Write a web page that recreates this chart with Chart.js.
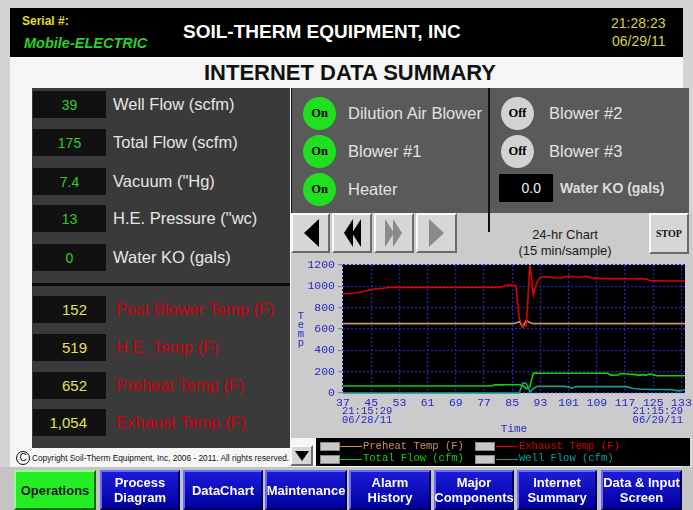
<!DOCTYPE html>
<html>
<head>
<meta charset="utf-8">
<script src="https://cdn.jsdelivr.net/npm/chart.js@4"></script>
<style>
body{margin:0;width:693px;height:510px;background:#d4d4d4;position:relative;overflow:hidden;font-family:"Liberation Sans",Arial,sans-serif}
.a{position:absolute;white-space:nowrap}
.vc{display:flex;align-items:center}
.box{background:#111;height:27px;width:73px;left:33px}
.up{color:#2fcc2f;font-size:14px;justify-content:center}
.lo{color:#e4e35a;font-size:15px;justify-content:flex-end;padding-right:19px;box-sizing:border-box}
.lbl{color:#e6e6e6;font-size:16.5px;left:113px;height:27px}
.red{color:#d0000f;font-size:16.5px;left:116px;height:27px}
.dot{width:33px;height:33px;border-radius:50%;font:bold 12.5px "Liberation Serif",serif;color:#000;justify-content:center}
.on{background:#1fe01f;left:303px}
.off{background:#d2d2d2;left:501px}
.st{color:#e2e2e2;font-size:16.5px;height:33px}
.btn{background:#d6d6d6;border:2px solid;border-color:#fafafa #6a6a6a #6a6a6a #fafafa;box-sizing:border-box;justify-content:center}
.nav{top:470px;height:40px;box-sizing:border-box;border:2px solid;border-color:#6a6aff #000050 #000050 #6a6aff;background:linear-gradient(#1c1cd8,#0000a0);color:#fff;font:bold 13px "Liberation Sans Narrow","Liberation Sans",sans-serif;text-align:center;justify-content:center;line-height:15px;white-space:normal}
.leg{font:10.5px "Liberation Mono",monospace}
.eye{width:18px;height:7px;background:#c8c8c8;border:1px solid #888}
</style>
</head>
<body>
<!-- header -->
<div class="a" style="left:10px;top:57px;width:673px;height:410px;background:#f6f6f6"></div>
<div class="a" style="left:10px;top:8px;width:673px;height:49px;background:#000"></div>
<div class="a" style="left:22px;top:14px;color:#e6dc20;font-weight:bold;font-size:12px">Serial #:</div>
<div class="a" style="left:24px;top:35px;color:#2ccf2c;font-weight:bold;font-style:italic;font-size:14.5px">Mobile-ELECTRIC</div>
<div class="a" style="left:183px;top:21px;color:#fff;font-weight:bold;font-size:19px">SOIL-THERM EQUIPMENT, INC</div>
<div class="a" style="left:611px;top:14px;color:#d8cf4a;font-size:14px;line-height:18px;text-align:right">21:28:23<br>06/29/11</div>
<div class="a" style="left:10px;top:60px;width:680px;text-align:center;font:bold 22px 'Liberation Sans Narrow','Liberation Sans',sans-serif;color:#111">INTERNET DATA SUMMARY</div>

<!-- left panel -->
<div class="a" style="left:32px;top:88px;width:258px;height:360px;background:#3a3a3a"></div>
<div class="a" style="left:32px;top:283px;width:258px;height:3px;background:#0c0c0c"></div>
<div class="a vc box up" style="top:91px">39</div>
<div class="a vc lbl" style="top:91px">Well Flow (scfm)</div>
<div class="a vc box up" style="top:129px">175</div>
<div class="a vc lbl" style="top:129px">Total Flow (scfm)</div>
<div class="a vc box up" style="top:168px">7.4</div>
<div class="a vc lbl" style="top:168px">Vacuum ("Hg)</div>
<div class="a vc box up" style="top:205px">13</div>
<div class="a vc lbl" style="top:205px">H.E. Pressure ("wc)</div>
<div class="a vc box up" style="top:244px">0</div>
<div class="a vc lbl" style="top:244px">Water KO (gals)</div>
<div class="a vc box lo" style="top:296px">152</div>
<div class="a vc red" style="top:296px">Post Blower Temp (F)</div>
<div class="a vc box lo" style="top:334px">519</div>
<div class="a vc red" style="top:334px">H.E. Temp (F)</div>
<div class="a vc box lo" style="top:372px">652</div>
<div class="a vc red" style="top:372px">Preheat Temp (F)</div>
<div class="a vc box lo" style="top:409px">1,054</div>
<div class="a vc red" style="top:409px">Exhaust Temp (F)</div>
<div class="a vc" style="left:16px;top:450px;height:15px;font-size:8.3px;color:#111"><span style="display:inline-block;width:12px;height:12px;border:1px solid #111;border-radius:50%;text-align:center;line-height:12px;font-size:10px;margin-right:2px">C</span>Copyright Soil-Therm Equipment, Inc, 2006 - 2011. All rights reserved.</div>

<!-- status panel -->
<div class="a" style="left:291px;top:88px;width:397px;height:125px;background:#5a5a5a;border-left:1px solid #111"></div>
<div class="a" style="left:291px;top:213px;width:402px;height:225px;background:#cbcbcb"></div>
<div class="a" style="left:488px;top:88px;width:2px;height:144px;background:#111"></div>
<div class="a vc dot on" style="top:97px">On</div>
<div class="a vc st" style="left:348px;top:97px">Dilution Air Blower</div>
<div class="a vc dot on" style="top:135px">On</div>
<div class="a vc st" style="left:348px;top:135px">Blower #1</div>
<div class="a vc dot on" style="top:173px">On</div>
<div class="a vc st" style="left:348px;top:173px">Heater</div>
<div class="a vc dot off" style="top:97px">Off</div>
<div class="a vc st" style="left:549px;top:97px">Blower #2</div>
<div class="a vc dot off" style="top:135px">Off</div>
<div class="a vc st" style="left:549px;top:135px">Blower #3</div>
<div class="a vc" style="left:499px;top:174px;width:54px;height:28px;background:#000;color:#f0f0f0;font-size:14px;justify-content:flex-end;padding-right:12px;box-sizing:border-box">0.0</div>
<div class="a vc" style="left:560px;top:174px;height:28px;color:#dcdcdc;font-weight:bold;font-size:14px">Water KO (gals)</div>

<!-- chart controls -->
<div class="a vc btn" style="left:291px;top:213px;width:39px;height:40px"><svg width="20" height="30"><polygon points="18,1 18,29 3,15" fill="#000"/></svg></div>
<div class="a vc btn" style="left:332px;top:213px;width:40px;height:40px"><svg width="20" height="30"><polygon points="11,1 11,29 2,15" fill="#000"/><polygon points="19,1 19,29 10,15" fill="#000"/></svg></div>
<div class="a vc btn" style="left:374px;top:213px;width:40px;height:40px"><svg width="20" height="30"><polygon points="1,1 1,29 10,15" fill="#8a8a8a"/><polygon points="9,1 9,29 18,15" fill="#8a8a8a"/></svg></div>
<div class="a vc btn" style="left:416px;top:213px;width:41px;height:40px"><svg width="20" height="30"><polygon points="2,1 2,29 17,15" fill="#8a8a8a"/></svg></div>
<div class="a" style="left:500px;top:227px;width:130px;text-align:center;font-size:13px;line-height:16px;color:#1a1a1a">24-hr Chart<br>(15 min/sample)</div>
<div class="a vc btn" style="left:649px;top:213px;width:40px;height:41px;font:bold 10px 'Liberation Serif',serif;color:#111">STOP</div>

<!-- chart -->
<div class="a" style="left:290px;top:255px;width:403px;height:185px"><canvas id="trend"></canvas></div>
<div class="a" style="left:296px;top:312px;width:10px;text-align:center;font:10.5px/9px 'Liberation Mono',monospace;color:#2828c8">T<br>e<br>m<br>p</div>

<!-- legend -->
<div class="a" style="left:316px;top:438px;width:374px;height:28px;background:#000"></div>
<div class="a eye" style="left:320px;top:442px"></div>
<div class="a" style="left:340px;top:446px;width:22px;height:1px;background:#d09060"></div>
<div class="a leg" style="left:363px;top:440px;color:#d09060">Preheat Temp (F)</div>
<div class="a eye" style="left:475px;top:442px"></div>
<div class="a" style="left:496px;top:446px;width:22px;height:1px;background:#e00000"></div>
<div class="a leg" style="left:519px;top:440px;color:#e00000">Exhaust Temp (F)</div>
<div class="a eye" style="left:320px;top:455px"></div>
<div class="a" style="left:340px;top:459px;width:22px;height:1px;background:#10d010"></div>
<div class="a leg" style="left:363px;top:452px;color:#10d010">Total Flow (cfm)</div>
<div class="a eye" style="left:475px;top:455px"></div>
<div class="a" style="left:496px;top:459px;width:22px;height:1px;background:#10a090"></div>
<div class="a leg" style="left:519px;top:452px;color:#10a090">Well Flow (cfm)</div>
<div class="a vc btn" style="left:290px;top:445px;width:23px;height:21px"><svg width="14" height="10"><polygon points="0,0 14,0 7,10" fill="#000"/></svg></div>

<!-- bottom nav -->
<div class="a" style="left:0;top:467px;width:693px;height:43px;background:#c4c4c4"></div>
<div class="a vc nav" style="left:14px;width:82px;background:#22ee22;color:#111;border-color:#90ff90 #0a6a0a #0a6a0a #90ff90">Operations</div>
<div class="a vc nav" style="left:100px;width:80px">Process<br>Diagram</div>
<div class="a vc nav" style="left:183px;width:80px">DataChart</div>
<div class="a vc nav" style="left:265px;width:82px">Maintenance</div>
<div class="a vc nav" style="left:349px;width:82px">Alarm<br>History</div>
<div class="a vc nav" style="left:434px;width:80px">Major<br>Components</div>
<div class="a vc nav" style="left:517px;width:80px">Internet<br>Summary</div>
<div class="a vc nav" style="left:601px;width:81px">Data &amp; Input<br>Screen</div>

<script>
// 采样序号 (15 min/sample)
const samples = [37, 40, 42, 44, 45, 47, 49, 50, 79, 80, 82, 83, 85, 86, 87, 88, 89, 90, 91, 92,
    93, 95, 97, 99, 100, 101, 102, 103, 104, 106, 107, 109, 110, 112, 113, 115, 116, 117, 118, 119,
    120, 121, 122, 123, 124, 125, 126, 130, 132, 133, 134];
const exhaustTemp = [930, 935, 945, 960, 970, 978, 985, 990, 992, 992, 995, 1008, 1010, 1005, 700, 625, 630, 1200, 920, 1040,
    1085, 1090, 1080, 1078, 1090, 1094, 1092, 1088, 1085, 1094, 1080, 1075, 1072, 1072, 1072, 1072, 1072, 1072, 1071, 1071,
    1071, 1070, 1070, 1068, 1055, 1052, 1052, 1050, 1050, 1050, 1050];
const preheatTemp = [650, 650, 650, 650, 650, 650, 650, 650, 650, 650, 650, 650, 650, 655, 670, 620, 680, 660, 650, 650,
    650, 650, 650, 650, 650, 650, 650, 650, 650, 650, 650, 650, 650, 650, 650, 650, 650, 650, 650, 650,
    650, 650, 650, 650, 650, 650, 650, 650, 650, 650, 650];
const totalFlow = [65, 65, 65, 65, 65, 65, 65, 65, 65, 76, 76, 78, 78, 78, 78, 70, 40, 60, 185, 188,
    185, 185, 185, 185, 185, 185, 185, 185, 185, 185, 185, 185, 185, 184, 168, 170, 182, 180, 176, 175,
    172, 165, 172, 165, 180, 170, 162, 162, 162, 162, 162];
const wellFlow = [0, 0, 0, 0, 0, 0, 0, 0, 0, 0, 0, 0, 0, 0, 0, 95, 90, 10, 40, 62,
    62, 62, 62, 62, 62, 55, 45, 60, 60, 60, 60, 60, 60, 60, 60, 60, 60, 60, 55, 45,
    40, 38, 35, 35, 34, 33, 33, 32, 20, 22, 30];

const xTicks = [37, 45, 53, 61, 69, 77, 85, 93, 101, 109, 117, 125, 133];
const yTicks = [0, 200, 400, 600, 800, 1000, 1200];
const startStamp = ['21:15:29', '06/28/11'];
const endStamp = ['21:15:29', '06/29/11'];

const BLUE = '#2828c8';
const GRID = '#2424c0';
const toPoints = arr => samples.map((s, i) => ({ x: s, y: arr[i] }));

// 黑色绘图区 + 起止时间
const plotBg = {
    id: 'plotBg',
    beforeDraw(chart) {
        const { ctx, chartArea: a } = chart;
        ctx.save();
        ctx.fillStyle = '#000';
        ctx.fillRect(a.left, a.top, a.right - a.left, a.bottom - a.top);
        ctx.restore();
    },
    afterDraw(chart) {
        const { ctx, chartArea: a } = chart;
        ctx.save();
        ctx.fillStyle = BLUE;
        ctx.font = '10.5px "Liberation Mono", monospace';
        ctx.textBaseline = 'middle';
        ctx.textAlign = 'left';
        startStamp.forEach((t, i) => ctx.fillText(t, a.left - 1, a.bottom + 18 + i * 9));
        ctx.textAlign = 'right';
        endStamp.forEach((t, i) => ctx.fillText(t, a.right - 2, a.bottom + 18 + i * 9));
        ctx.restore();
    }
};

const line = (label, arr, color) => ({
    label: label,
    data: toPoints(arr),
    borderColor: color,
    borderWidth: 1.6,
    pointRadius: 0,
    tension: 0,
    clip: 3
});

new Chart(document.getElementById('trend'), {
    type: 'line',
    data: {
        datasets: [
            line('Exhaust Temp (F)', exhaustTemp, '#e00000'),
            line('Preheat Temp (F)', preheatTemp, '#c8946a'),
            line('Total Flow (cfm)', totalFlow, '#10d010'),
            line('Well Flow (cfm)', wellFlow, '#10a090')
        ]
    },
    options: {
        responsive: true,
        maintainAspectRatio: false,
        animation: false,
        layout: { padding: { left: 0, top: 10, right: 8, bottom: 0 } },
        plugins: { legend: { display: false }, tooltip: { enabled: false } },
        scales: {
            x: {
                type: 'linear',
                min: 37,
                max: 134,
                afterBuildTicks: s => { s.ticks = xTicks.map(v => ({ value: v })); },
                afterFit: s => { s.height = 47; s.paddingLeft = 0; s.paddingRight = 0; },
                grid: { color: GRID, lineWidth: 1.2, drawTicks: false },
                border: { display: false, dash: [2, 2] },
                ticks: {
                    color: BLUE,
                    font: { family: 'Liberation Mono', size: 11.5 },
                    padding: 3,
                    autoSkip: false,
                    maxRotation: 0,
                    callback: v => String(v)
                },
                title: {
                    display: true,
                    text: 'Time',
                    color: BLUE,
                    font: { family: 'Liberation Mono', size: 11 },
                    padding: { top: 0, bottom: 4 }
                }
            },
            y: {
                min: 0,
                max: 1200,
                afterBuildTicks: s => { s.ticks = yTicks.map(v => ({ value: v })); },
                afterFit: s => { s.width = 53; },
                grid: { color: GRID, lineWidth: 1.2, tickColor: '#8a8a8a', tickLength: 5 },
                border: { display: false, dash: [2, 2] },
                ticks: {
                    color: BLUE,
                    font: { family: 'Liberation Mono', size: 11.5 },
                    padding: 3,
                    callback: v => String(v)
                }
            }
        }
    },
    plugins: [plotBg]
});
</script>
</body>
</html>
